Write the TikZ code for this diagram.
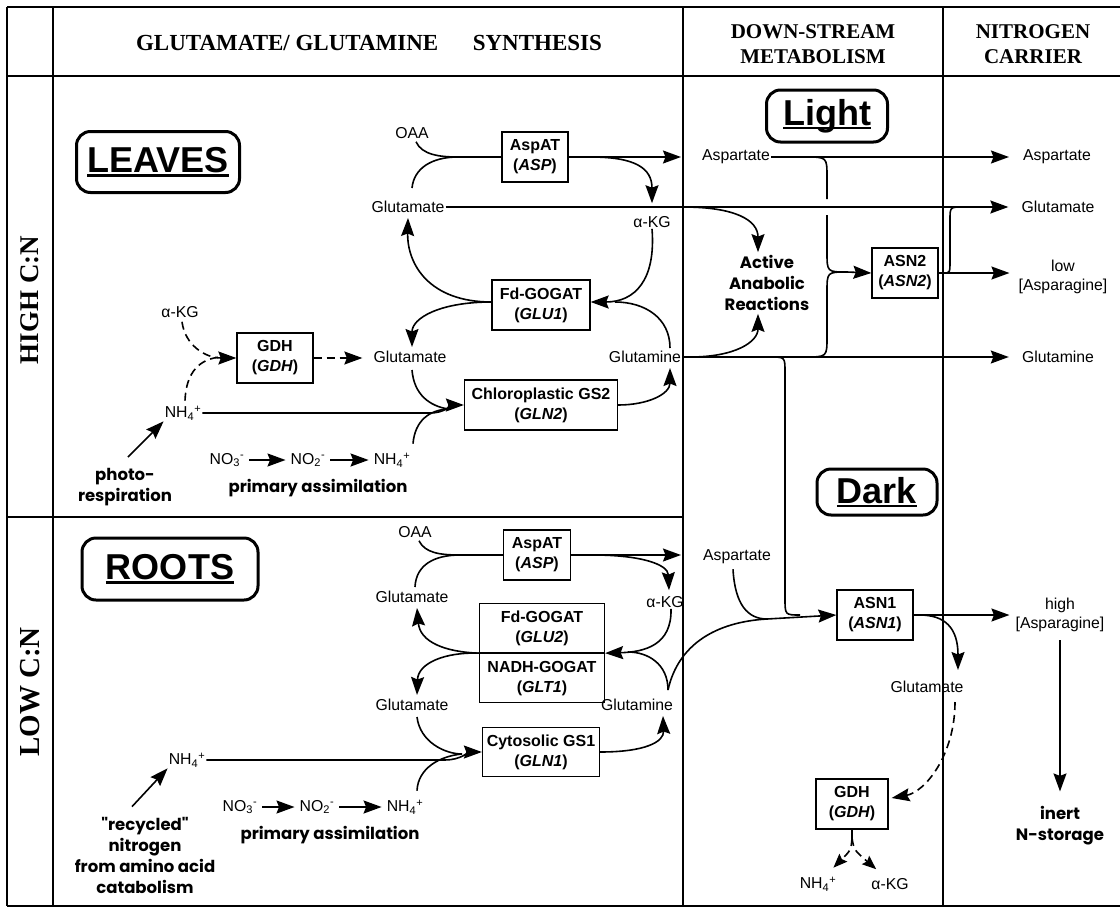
\documentclass[tikz,border=0pt]{standalone}
\usepackage{fontspec}
\setmainfont{Liberation Sans}
\newfontfamily\hdrfont{Liberation Serif}
\newfontfamily\chic{Poppins}
\usetikzlibrary{arrows.meta,calc}
\newcommand\myul[1]{\setbox0=\hbox{#1}\rlap{\rule[-4pt]{\wd0}{2.2pt}}\box0}
\tikzset{
 lbl/.style={font=\fontsize{15.8}{19}\selectfont, inner sep=1pt, align=center},
 enz/.style={draw, line width=1.3pt, font=\bfseries\fontsize{16}{20}\selectfont, align=center, inner sep=2pt, minimum height=50pt},
 organ/.style={draw, rounded corners=14pt, line width=3pt, font=\bfseries\fontsize{36}{40}\selectfont, inner sep=0pt},
 chi/.style={font=\chic\bfseries\fontsize{16.5}{21}\selectfont, align=center, inner sep=1pt},
 hdr/.style={font=\hdrfont\bfseries\fontsize{21}{25}\selectfont, align=center, inner sep=0pt},
 side/.style={font=\hdrfont\bfseries\fontsize{27}{30}\selectfont, rotate=90, inner sep=0pt},
 frame/.style={line width=2.4pt},
 con/.style={line width=1.6pt},
 arr/.style={con, -{Stealth[length=18pt,width=13pt,inset=2.5pt]}},
 sarr/.style={con, -{Stealth[length=14pt,width=11pt,inset=2pt]}},
 dsh/.style={dash pattern=on 8pt off 5pt},
}
\begin{document}
\begin{tikzpicture}[x=1pt,y=-1pt]
\useasboundingbox (0,0) rectangle (1120,911);
% frame
\draw[frame] (7,7) -- (1120,7);
\draw[frame] (7,76) -- (1120,76);
\draw[frame] (7,906) -- (1120,906);
\draw[frame] (7,7) -- (7,906);
\draw[frame] (53,7) -- (53,906);
\draw[frame] (683,7) -- (683,906);
\draw[frame] (943,7) -- (943,906);
\draw[frame] (7,517) -- (683,517);
% headers
\node[hdr, font=\hdrfont\bfseries\fontsize{23}{25}\selectfont] (h1) at (369,43) {GLUTAMATE/ GLUTAMINE\hspace{1.5em}SYNTHESIS};
\node[hdr] (h2) at (813,44) {DOWN-STREAM\\METABOLISM};
\node[hdr] (h3) at (1033,44) {NITROGEN\\CARRIER};
\node[side] (s1) at (30,300) {HIGH C:N};
\node[side, font=\hdrfont\bfseries\fontsize{29}{30}\selectfont] (s2) at (30,692) {LOW C:N};
% ===== LEAVES =====
\node[organ, minimum width=163pt, minimum height=61pt] (leaves) at (158,162) {\myul{LEAVES}};
\node[lbl] (oaa1) at (412,133) {OAA};
\node[enz, minimum width=66pt] (aspat1) at (535,157) {AspAT\\(\textit{ASP})};
\node[lbl] (glu1) at (408,207) {Glutamate};
\node[lbl] (akg1) at (652,222) {α-KG};
\node[enz, minimum width=98pt] (fdg1) at (541,305) {Fd-GOGAT\\(\textit{GLU1})};
\node[lbl] (glu2) at (410,357) {Glutamate};
\node[lbl] (gln1) at (645,357) {Glutamine};
\node[enz, minimum width=153pt] (gs2) at (541,405) {Chloroplastic GS2\\(\textit{GLN2})};
\node[lbl] (akg0) at (180,312) {α-KG};
\node[enz, minimum width=76pt] (gdh1) at (275,358) {GDH\\(\textit{GDH})};
\node[lbl] (nh1) at (183,413) {NH\textsubscript{4}\textsuperscript{+}};
\node[chi] (photo) at (125,487) {photo-\\respiration};
\node[lbl] (no3a) at (227,460) {NO\textsubscript{3}\textsuperscript{-}};
\node[lbl] (no2a) at (308,460) {NO\textsubscript{2}\textsuperscript{-}};
\node[lbl] (nh2) at (392,460) {NH\textsubscript{4}\textsuperscript{+}};
\node[chi] (prim1) at (318,488) {primary assimilation};
% ===== LIGHT =====
\node[organ, minimum width=121pt, minimum height=52pt] (light) at (827,116) {\myul{Light}};
\node[lbl] (asp2) at (736,157) {Aspartate};
\node[lbl] (asp3) at (1057,157) {Aspartate};
\node[lbl] (glu4) at (1058,207) {Glutamate};
\node[lbl] (low) at (1063,277) {low\\{[Asparagine]}};
\node[lbl] (gln3) at (1058,357) {Glutamine};
\node[enz, minimum width=66pt] (asn2) at (905,273) {ASN2\\(\textit{ASN2})};
\node[chi] (act) at (767,283) {Active\\Anabolic\\Reactions};
% ===== DARK =====
\node[organ, minimum width=120pt, minimum height=46pt] (dark) at (877,492) {\myul{Dark}};
\node[lbl] (asp4) at (737,557) {Aspartate};
\node[enz, minimum width=76pt] (asn1) at (875,615) {ASN1\\(\textit{ASN1})};
\node[lbl] (high) at (1060,615) {high\\{[Asparagine]}};
\node[lbl] (glu5) at (927,687) {Glutamate};
\node[enz, minimum width=72pt] (gdh2) at (852,804) {GDH\\(\textit{GDH})};
\node[lbl] (nh3) at (818,884) {NH\textsubscript{4}\textsuperscript{+}};
\node[lbl] (akg2) at (890,884) {α-KG};
\node[chi] (inert) at (1060,826) {inert\\N-storage};
% ===== ROOTS =====
\node[organ, minimum width=176pt, minimum height=62pt] (roots) at (170,569) {\myul{ROOTS}};
\node[lbl] (oaa2) at (415,532) {OAA};
\node[enz, minimum width=67pt] (aspat2) at (537,555) {AspAT\\(\textit{ASP})};
\node[lbl] (glu6) at (412,597) {Glutamate};
\node[lbl] (akg3) at (665,602) {α-KG};
\node[enz, minimum width=125pt, minimum height=49pt] (fdg2) at (542,628) {Fd-GOGAT\\(\textit{GLU2})};
\node[enz, minimum width=125pt, minimum height=49pt, anchor=north] (nadh) at (fdg2.south) {NADH-GOGAT\\(\textit{GLT1})};
\node[lbl] (glu7) at (412,705) {Glutamate};
\node[lbl] (gln2) at (637,705) {Glutamine};
\node[enz, minimum width=117pt, minimum height=49pt] (gs1) at (541,752) {Cytosolic GS1\\(\textit{GLN1})};
\node[lbl] (nh4) at (187,760) {NH\textsubscript{4}\textsuperscript{+}};
\node[chi] (recyc) at (145,855) {"recycled"\\nitrogen\\from amino acid\\catabolism};
\node[lbl] (no3b) at (240,807) {NO\textsubscript{3}\textsuperscript{-}};
\node[lbl] (no2b) at (317,807) {NO\textsubscript{2}\textsuperscript{-}};
\node[lbl] (nh5) at (405,807) {NH\textsubscript{4}\textsuperscript{+}};
\node[chi] (prim2) at (330,835) {primary assimilation};
% ---- junctions ----
\coordinate (j1) at (458,157);
\coordinate (j2) at (222,357);
\coordinate (j3) at (448,409);
\coordinate (jf1) at (615,302);
\coordinate (b1) at (805,157);
\coordinate (b2) at (805,357);
\coordinate (b3) at (683,207);
\coordinate (b4) at (770,357);
\coordinate (j4) at (767,619);
\coordinate (j5) at (460,555);
\coordinate (j6) at (462,754);
\coordinate (jf2) at (628,652);
\coordinate (gv) at (668,690);
\coordinate (jg) at (963,207);
\coordinate (gd) at (852,838);
% ===== LEAVES connectors =====
\draw[con] ($(oaa1.south)+(4,2)$) .. controls (422,155) and (440,157) .. (j1) -- (aspat1.west);
\draw[con] ($(glu1.north)+(4,-12)$) .. controls (414,168) and (432,157) .. (j1);
\draw[arr, shorten >=20pt] (aspat1.east) -- (aspat1.east -| asp2.west);
\draw[arr] ($(aspat1.east)+(22,0)$) .. controls (635,157) and (652,168) .. ($(akg1.north)+(0,-12)$);
\draw[arr, shorten >=12pt] (glu1.east) -- (glu1.east -| glu4.west);
\draw[arr] (akg1.south) .. controls (656,280) and (635,302) .. ($(fdg1.east)+(0,-3)$);
\draw[con] ($(gln1.north)+(25,-2)$) .. controls (670,318) and (645,302) .. (jf1);
\draw[arr] ($(fdg1.west)+(0,-3)$) .. controls (430,302) and (407,265) .. ($(glu1.south)+(0,4)$);
\draw[arr] ($(fdg1.west)+(0,-3)$) .. controls (440,302) and (412,318) .. ($(glu2.north)+(2,-3)$);
\draw[arr, dsh] ($(akg0.south)+(2,3)$) .. controls (185,345) and (205,358) .. (gdh1.west);
\draw[con, dsh] ($(nh1.north)+(2,-4)$) .. controls (186,372) and (200,358) .. (j2);
\draw[arr, dsh, shorten >=10pt] (gdh1.east) -- (gdh1.east -| glu2.west);
\draw[arr] (nh1.east) -- (430,413) .. controls (445,413) and (452,405) .. (gs2.west);
\draw[con] ($(glu2.south)+(2,6)$) .. controls (414,395) and (430,406) .. (j3);
\draw[con] ($(nh2.north)+(21,-8)$) .. controls (415,420) and (430,410) .. (j3);
\draw[arr] (gs2.east) .. controls (648,405) and (670,394) .. ($(gln1.south)+(25,4)$);
\draw[arr] ($(photo.north)+(3,-10)$) -- (nh1.south west);
\draw[arr, shorten <=4pt, shorten >=4pt] (no3a.east) -- (no2a.west);
\draw[arr, shorten <=4pt, shorten >=4pt] (no2a.east) -- (nh2.west);
% ===== LIGHT connectors =====
\draw[arr, shorten >=13pt] (asp2.east) -- (asp3.west);
\draw[arr] (b1) .. controls (827,157) .. (827,177) -- (827,199) (827,215) -- (827,252) .. controls (827,272) .. (847,272) -- (asn2.west);
\draw[con] (b2) .. controls (827,357) .. (827,337) -- (827,292) .. controls (827,272) .. (847,272);
\draw[arr, shorten >=8pt] (asn2.east) -- (asn2.east -| low.west);
\draw[con] ($(asn2.east)+(5,0)$) .. controls (950,273) .. (950,260) -- (950,220) .. controls (950,207) .. (jg);
\draw[arr] (b3) .. controls (735,207) and (758,220) .. ($(act.north)+(-9,-2)$);
\draw[arr] ($(gln1.east)+(8,0)$) .. controls (735,357) and (758,342) .. ($(act.south)+(-9,2)$);
\draw[arr, shorten >=12pt] (gln1.east) -- (gln1.east -| gln3.west);
\draw[con] (b4) .. controls (785,357) .. (785,372) -- (785,598) .. controls (785,615) .. (800,615);
% ===== DARK connectors =====
\draw[con] ($(asp4.south)+(-4,4)$) .. controls (735,605) and (748,619) .. (j4);
\draw[arr] (gv) .. controls (678,645) and (715,622) .. (j4) -- (asn1.west);
\draw[arr, shorten >=5pt] (asn1.east) -- (asn1.east -| high.west);
\draw[arr] ($(asn1.east)+(6,0)$) .. controls (945,615) and (958,628) .. ($(glu5.north)+(31,-10)$);
\draw[arr, shorten <=7pt, shorten >=14pt] (high.south) -- (inert.north);
\draw[arr, dsh] ($(glu5.south)+(28,8)$) .. controls (955,755) and (925,792) .. ($(gdh2.east)+(3,-6)$);
\draw[con, dsh] (gdh2.south) -- (gd);
\draw[sarr, dsh] (gd) .. controls (851,850) .. ($(nh3.north east)+(-4,-8)$);
\draw[sarr, dsh] (gd) .. controls (854,850) .. ($(akg2.north west)+(6,-8)$);
% ===== ROOTS connectors =====
\draw[con] ($(oaa2.south)+(4,2)$) .. controls (425,553) and (440,555) .. (j5) -- (aspat2.west);
\draw[con] ($(glu6.north)+(3,-3)$) .. controls (416,565) and (434,555) .. (j5);
\draw[arr, shorten >=21pt] (aspat2.east) -- (aspat2.east -| asp4.west);
\draw[arr] ($(aspat2.east)+(22,0)$) .. controls (640,555) and (668,564) .. ($(akg3.north)+(4,-5)$);
\draw[arr] ($(akg3.south)+(6,0)$) .. controls (672,645) and (645,652) .. (fdg2.south east);
\draw[con] (gv) .. controls (668,664) and (648,652) .. (jf2);
\draw[arr] (fdg2.south west) .. controls (445,652) and (420,642) .. ($(glu6.south)+(5,4)$);
\draw[arr] (fdg2.south west) .. controls (445,652) and (418,663) .. ($(glu7.north)+(5,-3)$);
\draw[con] ($(glu7.south)+(5,5)$) .. controls (420,742) and (445,754) .. (j6);
\draw[arr] (nh4.east) -- (445,760) .. controls (460,760) and (470,752) .. (gs1.west);
\draw[con] ($(nh5.north)+(12,-8)$) .. controls (418,768) and (440,756) .. (j6);
\draw[arr] (gs1.east) .. controls (645,752) and (664,742) .. ($(gln2.south)+(26,4)$);
\draw[arr] ($(recyc.north)+(-13,-9)$) -- (nh4.south west);
\draw[arr, shorten <=4pt, shorten >=4pt] (no3b.east) -- (no2b.west);
\draw[arr, shorten <=4pt, shorten >=4pt] (no2b.east) -- (nh5.west);
\end{tikzpicture}
\end{document}
